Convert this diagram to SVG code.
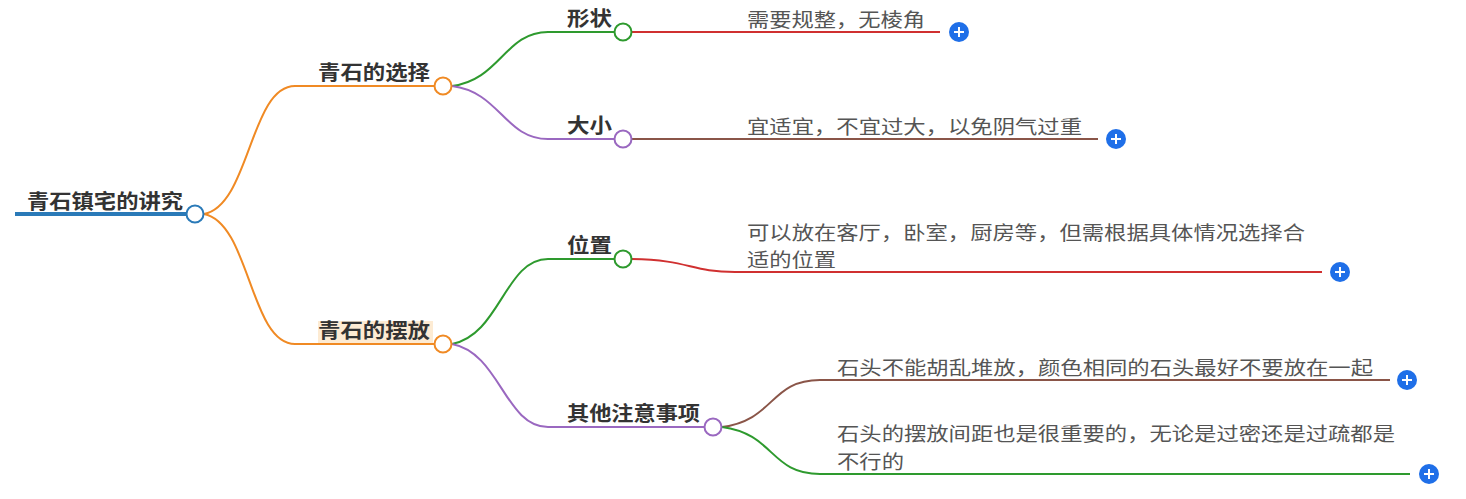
<svg xmlns="http://www.w3.org/2000/svg" width="1466" height="499" viewBox="0 0 1466 499">
<style>
text{font-family:"Noto Sans CJK SC","Liberation Sans",sans-serif}
.b{font-weight:bold;font-size:20px;fill:#333}
.t{font-size:19px;fill:#555}
.c{fill:none;stroke-width:2}
.dot{fill:#fff;stroke-width:2}
.p{fill:#1f6fe8}
.pl{stroke:#fff;stroke-width:2}
</style>
<rect width="1466" height="499" fill="#fff"/>
<g id="connectors">
<line x1="15" y1="214" x2="186" y2="214" stroke="#2a7ab8" stroke-width="4"/>
<path class="c" stroke="#f08a24" d="M204 214 C250 205 250 86 295 86 L435 86"/>
<path class="c" stroke="#f08a24" d="M204 214 C250 223 250 344 295 344 L435 344"/>
<path class="c" stroke="#2e9a2e" d="M452 86 C500 80 505 32 548 32 L614 32"/>
<path class="c" stroke="#9a68c0" d="M452 86 C500 92 505 139 548 139 L614 139"/>
<path class="c" stroke="#2e9a2e" d="M452 344 C500 335 505 259 548 259 L614 259"/>
<path class="c" stroke="#9a68c0" d="M452 344 C500 353 505 427 548 427 L704 427"/>
<path class="c" stroke="#d03030" d="M632 32 L940 32"/>
<path class="c" stroke="#8a5548" d="M632 139 L1098 139"/>
<path class="c" stroke="#d03030" d="M632 259 C690 260 690 272 735 272 L1322 272"/>
<path class="c" stroke="#8a5548" d="M722 427 C775 420 770 380 820 380 L1390 380"/>
<path class="c" stroke="#2e9a2e" d="M722 427 C775 434 770 474 820 474 L1410 474"/>
</g>
<g id="root"><text class="b" x="27" y="209" textLength="156" lengthAdjust="spacingAndGlyphs">青石镇宅的讲究</text><circle class="dot" cx="195" cy="214" r="8.5" stroke="#2a7ab8"/></g>
<g id="n1"><text class="b" x="318" y="80" textLength="112" lengthAdjust="spacingAndGlyphs">青石的选择</text><circle class="dot" cx="443" cy="86" r="8.5" stroke="#f08a24"/></g>
<g id="n2"><rect x="318" y="321" width="115" height="22" fill="#fdebd3"/><text class="b" x="318" y="338" textLength="112" lengthAdjust="spacingAndGlyphs">青石的摆放</text><circle class="dot" cx="443" cy="344" r="8.5" stroke="#f08a24"/></g>
<g id="n3"><text class="b" x="567" y="26" textLength="45" lengthAdjust="spacingAndGlyphs">形状</text><circle class="dot" cx="623" cy="32" r="8.5" stroke="#2e9a2e"/></g>
<g id="n4"><text class="b" x="567" y="133" textLength="45" lengthAdjust="spacingAndGlyphs">大小</text><circle class="dot" cx="623" cy="139" r="8.5" stroke="#9a68c0"/></g>
<g id="n5"><text class="b" x="567" y="253" textLength="45" lengthAdjust="spacingAndGlyphs">位置</text><circle class="dot" cx="623" cy="259" r="8.5" stroke="#2e9a2e"/></g>
<g id="n6"><text class="b" x="567" y="421" textLength="133" lengthAdjust="spacingAndGlyphs">其他注意事项</text><circle class="dot" cx="713" cy="427" r="8.5" stroke="#9a68c0"/></g>
<g id="n7"><text class="t" x="747" y="27" textLength="178" lengthAdjust="spacingAndGlyphs">需要规整，无棱角</text><circle class="p" cx="959" cy="32" r="10"/><path class="pl" d="M954 32h10M959 27v10"/></g>
<g id="n8"><text class="t" x="747" y="134" textLength="335" lengthAdjust="spacingAndGlyphs">宜适宜，不宜过大，以免阴气过重</text><circle class="p" cx="1116" cy="139" r="10"/><path class="pl" d="M1111 139h10M1116 134v10"/></g>
<g id="n9"><text class="t" x="747" y="240" textLength="558" lengthAdjust="spacingAndGlyphs">可以放在客厅，卧室，厨房等，但需根据具体情况选择合</text><text class="t" x="747" y="267" textLength="89" lengthAdjust="spacingAndGlyphs">适的位置</text><circle class="p" cx="1340" cy="272" r="10"/><path class="pl" d="M1335 272h10M1340 267v10"/></g>
<g id="n10"><text class="t" x="837" y="375" textLength="536" lengthAdjust="spacingAndGlyphs">石头不能胡乱堆放，颜色相同的石头最好不要放在一起</text><circle class="p" cx="1407" cy="380" r="10"/><path class="pl" d="M1402 380h10M1407 375v10"/></g>
<g id="n11"><text class="t" x="837" y="441" textLength="558" lengthAdjust="spacingAndGlyphs">石头的摆放间距也是很重要的，无论是过密还是过疏都是</text><text class="t" x="837" y="469" textLength="67" lengthAdjust="spacingAndGlyphs">不行的</text><circle class="p" cx="1429" cy="474" r="10"/><path class="pl" d="M1424 474h10M1429 469v10"/></g>
</svg>
